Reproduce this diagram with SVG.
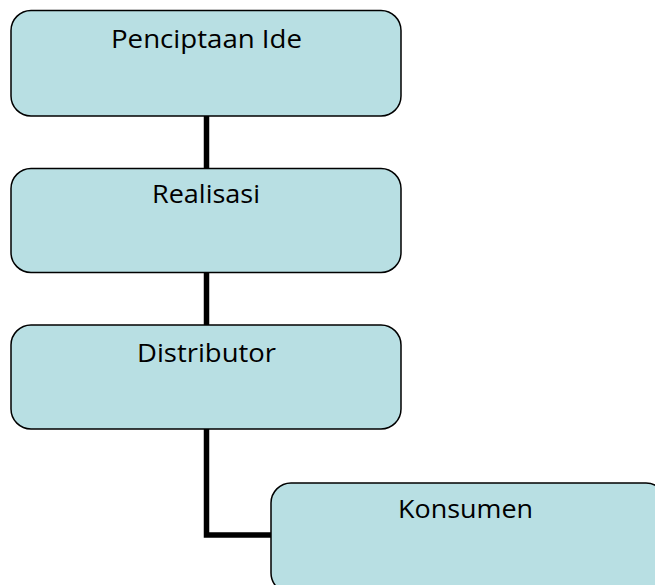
<svg xmlns="http://www.w3.org/2000/svg" width="655" height="585" viewBox="0 0 655 585">
<style>
.node rect{fill:#b8dfe3;stroke:#000;stroke-width:1.5}
.node text{font-family:"Open Sans","Noto Sans",sans-serif;font-size:25px;fill:#000;text-anchor:middle}
.conn{fill:none;stroke:#000;stroke-width:5.5}
</style>
<rect width="655" height="585" fill="#fff"/>
<g id="connectors">
<line class="conn" x1="206.5" y1="116" x2="206.5" y2="169"/>
<line class="conn" x1="206.5" y1="272" x2="206.5" y2="325"/>
<polyline class="conn" points="206.5,429 206.5,535 272,535"/>
</g>
<g id="n1" class="node"><rect x="11" y="10.5" width="390" height="105.5" rx="20"/><text x="206.5" y="48" textLength="191" lengthAdjust="spacingAndGlyphs">Penciptaan Ide</text></g>
<g id="n2" class="node"><rect x="11" y="168.5" width="390" height="104" rx="20"/><text x="206" y="203" textLength="108" lengthAdjust="spacingAndGlyphs">Realisasi</text></g>
<g id="n3" class="node"><rect x="11" y="325" width="390" height="104" rx="20"/><text x="206.5" y="362" textLength="139" lengthAdjust="spacingAndGlyphs">Distributor</text></g>
<g id="n4" class="node"><rect x="271" y="483" width="395" height="110" rx="20"/><text x="465.5" y="518" textLength="135" lengthAdjust="spacingAndGlyphs">Konsumen</text></g>
</svg>
